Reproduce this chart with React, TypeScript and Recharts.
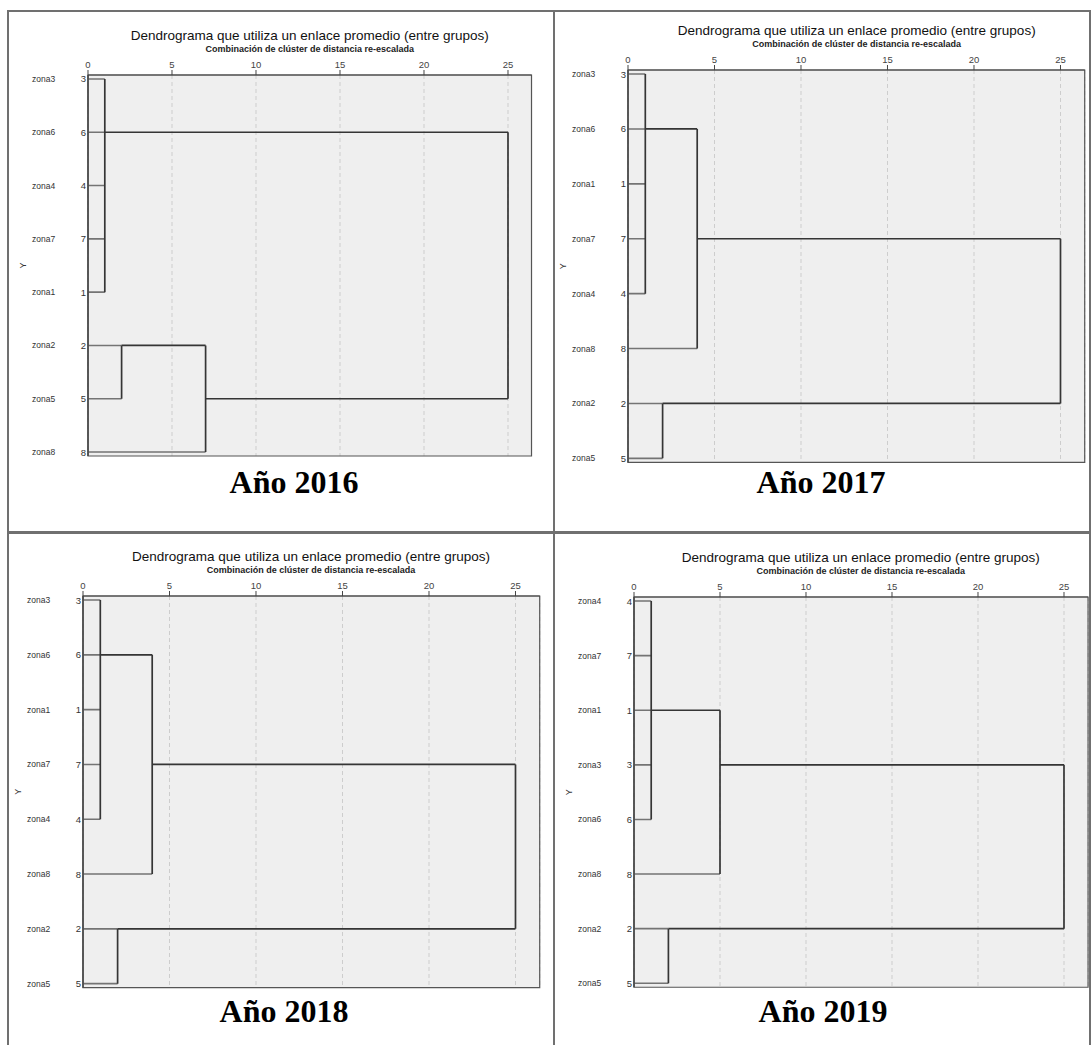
import { CartesianGrid, ComposedChart, Line, ReferenceArea, XAxis, YAxis } from "recharts";

// leaf order (top to bottom), case numbers and merges
const years = ["2016", "2017", "2018", "2019"];

const labels2016 = ["zona3", "zona6", "zona4", "zona7", "zona1", "zona2", "zona5", "zona8"];
const cases2016 = [3, 6, 4, 7, 1, 2, 5, 8];
const merges2016 = [
  { id: "A", kids: [0, 1, 2, 3, 4], height: 1, row: 1 },
  { id: "B", kids: [5, 6], height: 2, row: 5 },
  { id: "C", kids: ["B", 7], height: 7, row: 6 },
  { id: "D", kids: ["A", "C"], height: 25, row: 1 },
];

const labels2017 = ["zona3", "zona6", "zona1", "zona7", "zona4", "zona8", "zona2", "zona5"];
const cases2017 = [3, 6, 1, 7, 4, 8, 2, 5];
const merges2017 = [
  { id: "A", kids: [0, 1, 2, 3, 4], height: 1, row: 1 },
  { id: "B", kids: ["A", 5], height: 4, row: 3 },
  { id: "C", kids: [6, 7], height: 2, row: 6 },
  { id: "D", kids: ["B", "C"], height: 25, row: 3 },
];

const labels2018 = ["zona3", "zona6", "zona1", "zona7", "zona4", "zona8", "zona2", "zona5"];
const cases2018 = [3, 6, 1, 7, 4, 8, 2, 5];
const merges2018 = [
  { id: "A", kids: [0, 1, 2, 3, 4], height: 1, row: 1 },
  { id: "B", kids: ["A", 5], height: 4, row: 3 },
  { id: "C", kids: [6, 7], height: 2, row: 6 },
  { id: "D", kids: ["B", "C"], height: 25, row: 3 },
];

const labels2019 = ["zona4", "zona7", "zona1", "zona3", "zona6", "zona8", "zona2", "zona5"];
const cases2019 = [4, 7, 1, 3, 6, 8, 2, 5];
const merges2019 = [
  { id: "A", kids: [0, 1, 2, 3, 4], height: 1, row: 2 },
  { id: "B", kids: ["A", 5], height: 5, row: 3 },
  { id: "C", kids: [6, 7], height: 2, row: 6 },
  { id: "D", kids: ["B", "C"], height: 25, row: 3 },
];

const distTicks = [0, 5, 10, 15, 20, 25];
const distMax = 26.4;
const rowPad = 0.074;

const TITLE = "Dendrograma que utiliza un enlace promedio (entre grupos)";
const SUBTITLE = "Combinación de clúster de distancia re-escalada";

// where each plot box sits on the page
const layouts = [
  { left: 88, top: 74.7, unit: 16.8, gap: 53.3, capX: 294, capY: 482 },
  { left: 628.3, top: 70, unit: 17.3, gap: 54.9, capX: 821, capY: 482 },
  { left: 82.7, top: 596, unit: 17.3, gap: 54.8, capX: 284, capY: 1011 },
  { left: 633.7, top: 596.7, unit: 17.2, gap: 54.6, capX: 823, capY: 1011 },
];

const SANS = '"Liberation Sans", Arial, sans-serif';

type Merge = { id: string; kids: (number | string)[]; height: number; row: number };
type Pt = { x: number; y: number | null };

function buildLines(merges: Merge[]) {
  const byId: Record<string, Merge> = {};
  merges.forEach((m) => (byId[m.id] = m));
  const leaf: Pt[] = [];
  const link: Pt[] = [];
  merges.forEach((m) => {
    const rows: number[] = [];
    m.kids.forEach((k) => {
      if (typeof k === "number") {
        leaf.push({ x: 0, y: k }, { x: m.height, y: k }, { x: m.height, y: null });
        rows.push(k);
      } else {
        const c = byId[k];
        link.push({ x: c.height, y: c.row }, { x: m.height, y: c.row }, { x: m.height, y: null });
        rows.push(c.row);
      }
    });
    link.push(
      { x: m.height, y: Math.min(...rows) },
      { x: m.height, y: Math.max(...rows) },
      { x: m.height, y: null }
    );
  });
  return { leaf, link };
}

const LeafTick = (props: any) => {
  const { x, y, payload, labels, cases } = props;
  return (
    <g>
      <text x={x} y={y} dy={3.5} textAnchor="end" fontSize={9.5} fill="#333" fontFamily={SANS}>
        {cases[payload.value]}
      </text>
      <text x={x - 54} y={y} dy={3} textAnchor="start" fontSize={8.5} fill="#333" fontFamily={SANS}>
        {labels[payload.value]}
      </text>
    </g>
  );
};

const Dendrogram = ({ layout, labels, cases, merges, year }: any) => {
  const { left, top, unit, gap, capX, capY } = layout;
  const { leaf, link } = buildLines(merges);
  const rows = labels.map((_: string, i: number) => i);
  const plotW = distMax * unit;
  const plotH = (labels.length - 1 + 2 * rowPad) * gap;
  const axisW = 70;
  const axisH = 18;

  return (
    <>
      <div
        style={{
          position: "absolute",
          left,
          width: plotW,
          top: top - 39 - 8,
          lineHeight: "16px",
          textAlign: "center",
          fontFamily: SANS,
          fontSize: 13.5,
          color: "#111",
          whiteSpace: "nowrap",
        }}
      >
        {TITLE}
      </div>
      <div
        style={{
          position: "absolute",
          left,
          width: plotW,
          top: top - 26 - 6,
          lineHeight: "12px",
          textAlign: "center",
          fontFamily: SANS,
          fontSize: 9,
          fontWeight: "bold",
          color: "#222",
          whiteSpace: "nowrap",
        }}
      >
        {SUBTITLE}
      </div>
      <div style={{ position: "absolute", left: left - axisW, top: top - axisH }}>
        <ComposedChart
          width={axisW + plotW + 6}
          height={axisH + plotH + 6}
          margin={{ top: 0, right: 6, bottom: 6, left: 0 }}
        >
          <CartesianGrid
            horizontal={false}
            stroke="#cdcdcd"
            strokeDasharray="4 3"
            fill="#efefef"
          />
          <XAxis
            dataKey="x"
            type="number"
            orientation="top"
            domain={[0, distMax]}
            ticks={distTicks}
            allowDataOverflow
            height={axisH}
            tickSize={5}
            tickMargin={2}
            axisLine={{ stroke: "#444" }}
            tickLine={{ stroke: "#444" }}
            tick={{ fontSize: 9.5, fill: "#444", fontFamily: SANS }}
          />
          <YAxis
            type="number"
            domain={[-rowPad, labels.length - 1 + rowPad]}
            ticks={rows}
            reversed
            allowDataOverflow
            width={axisW}
            tickSize={0}
            tickMargin={2}
            tickLine={false}
            axisLine={{ stroke: "#444", strokeWidth: 1.5 }}
            tick={<LeafTick labels={labels} cases={cases} />}
            label={{
              value: "Y",
              angle: -90,
              position: "insideLeft",
              offset: 5,
              fontSize: 9,
              fill: "#333",
              fontFamily: SANS,
              style: { textAnchor: "middle" },
            }}
          />
          <ReferenceArea
            x1={0}
            x2={distMax}
            y1={-rowPad}
            y2={labels.length - 1 + rowPad}
            fill="none"
            stroke="#555"
            strokeWidth={1.2}
          />
          <Line
            data={leaf}
            dataKey="y"
            type="linear"
            stroke="#747474"
            strokeWidth={1.6}
            dot={false}
            activeDot={false}
            connectNulls={false}
            isAnimationActive={false}
          />
          <Line
            data={link}
            dataKey="y"
            type="linear"
            stroke="#353535"
            strokeWidth={1.7}
            dot={false}
            activeDot={false}
            connectNulls={false}
            isAnimationActive={false}
          />
        </ComposedChart>
      </div>
      <div
        style={{
          position: "absolute",
          left: capX - 150,
          width: 300,
          top: capY - 19,
          lineHeight: "38px",
          textAlign: "center",
          fontFamily: '"Liberation Serif", "Times New Roman", serif',
          fontWeight: "bold",
          fontSize: 32,
          color: "#000",
        }}
      >
        Año {year}
      </div>
    </>
  );
};

const border = "#707070";

export default function App() {
  return (
    <div
      style={{
        position: "absolute",
        left: 0,
        top: 0,
        width: 1092,
        height: 1045,
        background: "#fff",
        overflow: "hidden",
      }}
    >
      {/* table rules */}
      <div style={{ position: "absolute", left: 7, top: 10, width: 1084, height: 2, background: border }} />
      <div style={{ position: "absolute", left: 7, top: 10, width: 2, height: 1035, background: border }} />
      <div style={{ position: "absolute", left: 553, top: 10, width: 2, height: 1035, background: border }} />
      <div style={{ position: "absolute", left: 1089, top: 10, width: 2, height: 1035, background: border }} />
      <div style={{ position: "absolute", left: 7, top: 531, width: 1084, height: 3, background: border }} />

      <Dendrogram layout={layouts[0]} labels={labels2016} cases={cases2016} merges={merges2016} year={years[0]} />
      <Dendrogram layout={layouts[1]} labels={labels2017} cases={cases2017} merges={merges2017} year={years[1]} />
      <Dendrogram layout={layouts[2]} labels={labels2018} cases={cases2018} merges={merges2018} year={years[2]} />
      <Dendrogram layout={layouts[3]} labels={labels2019} cases={cases2019} merges={merges2019} year={years[3]} />
    </div>
  );
}
